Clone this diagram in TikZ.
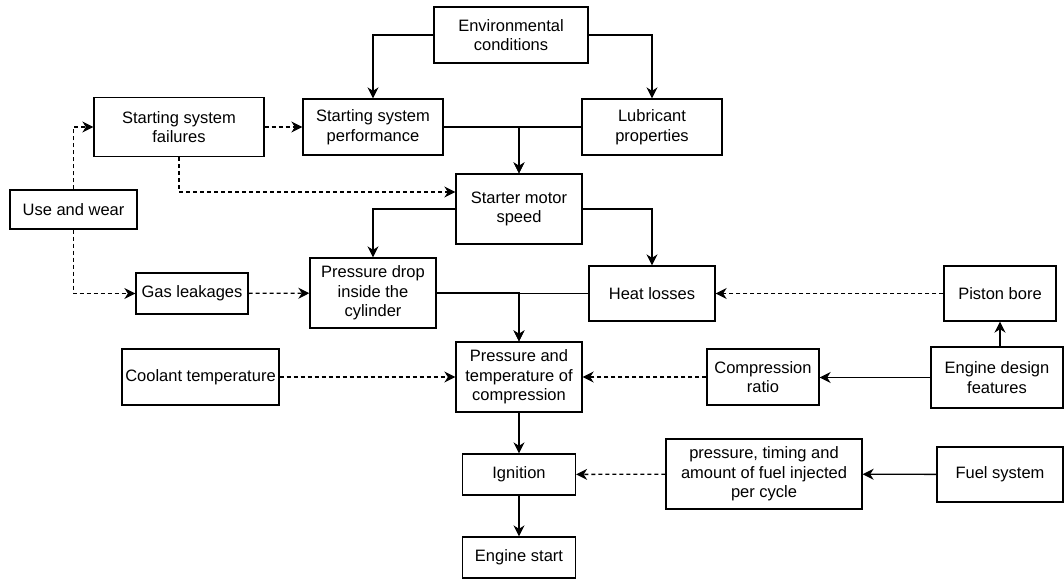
\documentclass[tikz,border=0pt]{standalone}
\usepackage{fontspec}
\setmainfont{Liberation Sans}
\usetikzlibrary{arrows.meta}

\begin{document}
\begin{tikzpicture}[x=1pt, y=-1pt,
    box/.style={draw=black, align=center, inner sep=0pt,
                font=\fontsize{16.5}{19.5}\selectfont},
    arr/.style={-{Stealth[length=11pt, width=11pt, inset=3.5pt]}},
    dep/.style={arr, dash pattern=on 4pt off 3pt}]
\useasboundingbox (0,0) rectangle (1064,579);
\begin{scope}[line width=1.3pt]

  % top row
  \node[box, minimum width=154pt, minimum height=56pt] (env) at (511,35) {Environmental\\conditions};
  \node[box, minimum width=170pt, minimum height=59pt] (fail) at (179,127) {Starting system\\failures};
  \node[box, minimum width=140pt, minimum height=56pt] (perf) at (373,127) {Starting system\\performance};
  \node[box, minimum width=140pt, minimum height=56pt] (lub) at (652,127) {Lubricant\\properties};

  % starter
  \node[box, minimum width=127pt, minimum height=39pt] (use) at (73.5,209.5) {Use and wear};
  \node[box, minimum width=126pt, minimum height=70pt] (motor) at (519,209) {Starter motor\\speed};

  % cylinder
  \node[box, minimum width=112pt, minimum height=41pt] (gas) at (192,293.5) {Gas leakages};
  \node[box, minimum width=126pt, minimum height=70pt] (drop) at (373,293) {Pressure drop\\inside the\\cylinder};
  \node[box, minimum width=126pt, minimum height=55pt] (heat) at (652,293.5) {Heat losses};
  \node[box, minimum width=112pt, minimum height=55pt] (bore) at (1000,293.5) {Piston bore};

  % compression
  \node[box, minimum width=157pt, minimum height=56pt] (cool) at (200.5,377) {Coolant temperature};
  \node[box, minimum width=126pt, minimum height=70pt] (comp) at (519,377) {Pressure and\\temperature of\\compression};
  \node[box, minimum width=112pt, minimum height=56pt] (ratio) at (763,377) {Compression\\ratio};
  \node[box, minimum width=132pt, minimum height=61pt] (design) at (997,377.5) {Engine design\\features};

  % fuel and start
  \node[box, minimum width=113pt, minimum height=41pt] (ign) at (519,474.5) {Ignition};
  \node[box, minimum width=196pt, minimum height=70pt] (inj) at (764,474) {pressure, timing and\\amount of fuel injected\\per cycle};
  \node[box, minimum width=126pt, minimum height=55pt] (fuel) at (1000,474.5) {Fuel system};
  \node[box, minimum width=113pt, minimum height=41pt] (start) at (519,557.5) {Engine start};

  % solid links
  \draw[arr] (env.west) -| (perf.north);
  \draw[arr] (env.east) -| (lub.north);
  \draw[arr] (perf.east) -| (motor.north);
  \draw[arr] (lub.west) -| (motor.north);
  \draw[arr] (motor.west) -| (drop.north);
  \draw[arr] (motor.east) -| (heat.north);
  \draw[arr] (drop.east) -| (comp.north);
  \draw[arr] (heat.west) -| (comp.north);
  \draw[arr] (bore.south |- design.north) -- (bore.south);
  \draw[arr] (design.west) -- (design.west -| ratio.east);
  \draw[arr] (comp) -- (ign);
  \draw[arr] (ign) -- (start);
  \draw[arr] (fuel) -- (inj);

  % dashed links
  \draw[dep] (fail) -- (perf);
  \draw[dep] (fail.south) |- ([yshift=17pt]motor.west);
  \draw[dep] (use.north) |- (fail.west);
  \draw[dep] (use.south) |- (gas.west);
  \draw[dep] (gas) -- (drop);
  \draw[dep] (bore) -- (heat);
  \draw[dep] (cool) -- (comp);
  \draw[dep] (ratio) -- (comp);
  \draw[dep] (inj) -- (ign);

\end{scope}
\end{tikzpicture}
\end{document}
